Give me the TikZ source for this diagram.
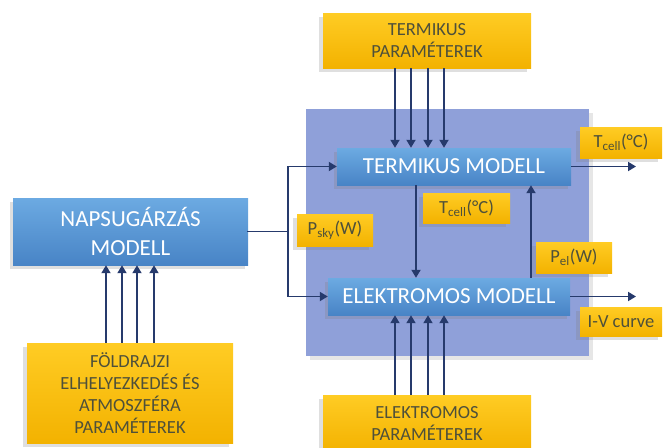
\documentclass[tikz,border=0pt]{standalone}
\usepackage{fontspec}
\setmainfont{Carlito}
\usetikzlibrary{positioning}
\usetikzlibrary{arrows.meta}
\usetikzlibrary{shadows}
\definecolor{panelblue}{RGB}{143,160,217}
\definecolor{modeltop}{RGB}{108,170,226}
\definecolor{modelbot}{RGB}{72,132,198}
\definecolor{paramtop}{RGB}{255,204,36}
\definecolor{parambot}{RGB}{243,178,0}
\definecolor{paramtext}{RGB}{78,80,58}
\definecolor{linknavy}{RGB}{38,58,108}
\tikzset{
    pv diagram/.style={
            x=1pt,y=-1pt,
            model/.style={inner sep=0pt,align=center,text=white,
                    font=\fontsize{23}{29}\selectfont,
                    top color=modeltop,bottom color=modelbot,
                    drop shadow={shadow xshift=-3pt,shadow yshift=-4pt,opacity=.25}},
            param/.style={inner sep=0pt,align=center,text=paramtext,
                    font=\fontsize{18.5}{22}\selectfont,
                    top color=paramtop,bottom color=parambot,
                    drop shadow={shadow xshift=-4pt,shadow yshift=-4pt,opacity=.25}},
            link/.style={draw=linknavy,line width=1.8pt,
                    -{Triangle[width=9pt,length=8pt]}},
            plain/.style={draw=linknavy,line width=1.8pt,line cap=rect}
        }
    }

\begin{document}
\begin{tikzpicture}[pv diagram]
    \useasboundingbox (0,0) rectangle (663,447);
    \fill[panelblue,drop shadow={shadow xshift=4pt,shadow yshift=-4pt,opacity=.2}]
        (306,109) rectangle (589,356);
    % blocks
    \node[param,minimum width=208pt,minimum height=55pt] (termpar) at (427,40.5) {TERMIKUS\\PARAMÉTEREK};
    \node[param,minimum width=208pt,minimum height=56pt] (elpar) at (427,423) {ELEKTROMOS\\PARAMÉTEREK};
    \node[param,minimum width=206pt,minimum height=100pt] (geo) at (130,393) {FÖLDRAJZI\\ELHELYEZKEDÉS ÉS\\ATMOSZFÉRA\\PARAMÉTEREK};
    \node[model,minimum width=235pt,minimum height=67pt] (napsug) at (130.5,231.5) {NAPSUGÁRZÁS\\MODELL};
    \node[model,minimum width=234pt,minimum height=37pt] (termmod) at (454,166.5) {TERMIKUS MODELL};
    \node[model,minimum width=242pt,minimum height=37pt] (elmod) at (449,296.5) {ELEKTROMOS MODELL};
    % labels
    \node[param,minimum width=87pt,minimum height=30pt] (tcellin) at (466.5,208) {T\textsubscript{cell}(°C)};
    \node[param,minimum width=76pt,minimum height=32pt] (psky) at (335,230) {P\textsubscript{sky}(W)};
    \node[param,minimum width=76pt,minimum height=31pt] (pel) at (574,257.5) {P\textsubscript{el}(W)};
    \node[param,minimum width=82pt,minimum height=31pt] (tcellout) at (621,142.5) {T\textsubscript{cell}(°C)};
    \node[param,minimum width=82pt,minimum height=29pt] (ivc) at (621,321.5) {I-V curve};
    % inputs
    \foreach \x in {395,411,428,444} {
        \draw[link] (\x,0 |- termpar.south) -- (\x,0 |- termmod.north);
        \draw[link] (\x,0 |- elpar.north) -- (\x,0 |- elmod.south);
    }
    \foreach \x in {106,122,137,154}
        \draw[link] (\x,0 |- geo.north) -- (\x,0 |- napsug.south);
    % couplings
    \draw[plain] (napsug.east) -- ++(40,0) coordinate (jn);
    \draw[plain] (jn |- termmod.west) -- (jn |- elmod.west);
    \draw[link] (jn |- termmod.west) -- (termmod.west);
    \draw[link] (jn |- elmod.west) -- (elmod.west);
    \draw[link] (416,0 |- termmod.south) -- (416,0 |- elmod.north);
    \draw[link] (531,0 |- elmod.north) -- (531,0 |- termmod.south);
    % outputs
    \draw[link] (termmod.east) -- (636,0 |- termmod.east);
    \draw[link] (elmod.east) -- (636,0 |- elmod.east);
\end{tikzpicture}
\end{document}
